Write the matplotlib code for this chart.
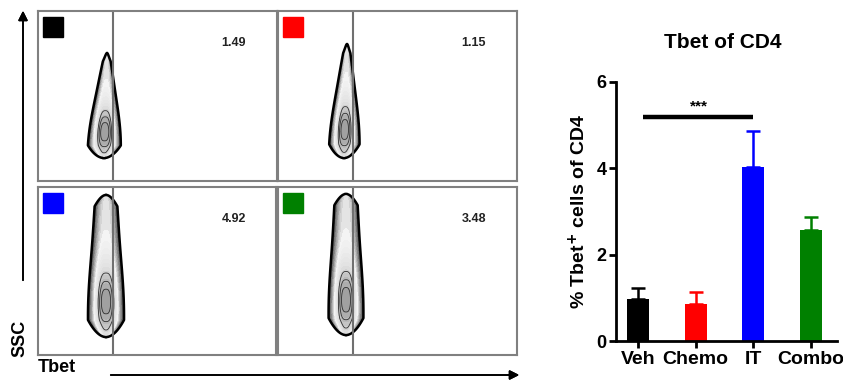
import numpy as np
import matplotlib.pyplot as plt
from matplotlib.patches import Rectangle
from matplotlib.colors import LinearSegmentedColormap

plt.rcParams['font.family'] = ['Liberation Sans', 'DejaVu Sans']

W, H = 843, 380

# flow panels
panel_names = ['Veh', 'Chemo', 'IT', 'Combo']
panel_colors = ['#000000', '#ff0000', '#0000ff', '#008000']
panel_pct = ['1.49', '1.15', '4.92', '3.48']
# blob shape: centre x, bottom y, top y, half width, taper, lean (panel pixels)
blob_cx = [66, 66, 68, 68]
blob_y0 = [23, 23, 18, 20]
blob_y1 = [128, 137, 160, 161]
blob_w = [13, 12, 14, 13.5]
blob_taper = [0.85, 0.85, 0.35, 0.3]
blob_lean = [3, 3, 0, 0]

# bar chart
groups = ['Veh', 'Chemo', 'IT', 'Combo']
means = [0.97, 0.86, 4.03, 2.57]
sems = [0.26, 0.27, 0.83, 0.30]
bar_colors = ['#000000', '#ff0000', '#0000ff', '#008000']


def box(x0, y0, x1, y1):
    return [x0 / W, 1 - y1 / H, (x1 - x0) / W, (y1 - y0) / H]


zebra = LinearSegmentedColormap.from_list(
    'zebra', ['#3a3a3a', '#9a9a9a', '#f4f4f4', '#e0e0e0', '#9c9c9c'])

fig = plt.figure(figsize=(W / 100, H / 100), dpi=100)

boxes = [(38, 11, 277, 181), (278, 11, 517, 181),
         (38, 187, 276, 355), (278, 187, 517, 355)]

for i, (x0, y0, x1, y1) in enumerate(boxes):
    pw, ph = x1 - x0, y1 - y0
    ax = fig.add_axes(box(x0, y0, x1, y1))
    ax.set_xlim(0, pw)
    ax.set_ylim(0, ph)
    ax.set_xticks([])
    ax.set_yticks([])
    for s in ax.spines.values():
        s.set_color('#808080')
        s.set_linewidth(1.5)

    X, Y = np.meshgrid(np.linspace(0, pw, 600), np.linspace(0, ph, 420))
    t = (Y - blob_y0[i]) / (blob_y1[i] - blob_y0[i])
    tc = np.clip(t, 0, 1)
    hw = blob_w[i] * (1 - blob_taper[i] * tc ** 1.6)
    hw = hw * np.sqrt(np.clip(t / 0.12, 0, 1)) * np.sqrt(np.clip((1 - t) / 0.08, 0, 1))
    hw = np.maximum(hw, 1e-3)
    cx = blob_cx[i] + blob_lean[i] * tc
    along = 0.5 + 0.5 * np.exp(-((t - 0.25) / 0.3) ** 2)
    d = np.exp(-(np.abs(X - cx) / hw) ** 3) * along

    ax.contourf(X, Y, d, levels=np.linspace(0.1, 1.0, 24), cmap=zebra)
    ax.contour(X, Y, d, levels=[0.1], colors='black', linewidths=1.8)
    ax.contour(X, Y, d, levels=[0.82, 0.9, 0.96], colors='#303030',
               linewidths=0.6)

    ax.axvline(75, color='#707070', lw=1.5)
    ax.add_patch(Rectangle((5, ph - 26), 20, 20, color=panel_colors[i]))
    ax.text(196, ph - 32, panel_pct[i], fontsize=9, fontweight='bold',
            ha='center', va='center', color='#222222')

# axis arrows and labels of flow plots
fig.add_artist(plt.annotate('', xy=(23, H - 8), xytext=(23, H - 283),
                            xycoords='figure pixels',
                            arrowprops=dict(arrowstyle='-|>', color='black',
                                            lw=1.2, mutation_scale=14)))
fig.add_artist(plt.annotate('', xy=(522, H - 375), xytext=(108, H - 375),
                            xycoords='figure pixels',
                            arrowprops=dict(arrowstyle='-|>', color='black',
                                            lw=1.2, mutation_scale=14)))
fig.text(20 / W, 1 - 338 / H, 'SSC', rotation=90, fontsize=13, fontweight='bold',
         ha='center', va='center')
fig.text(57 / W, 1 - 368 / H, 'Tbet', fontsize=13, fontweight='bold',
         ha='center', va='center')

# bar chart
bx = fig.add_axes(box(616, 82, 837, 341))
x = np.arange(len(groups))
bx.bar(x, means, width=0.38, color=bar_colors, zorder=2)
for xi, m, e, c in zip(x, means, sems, bar_colors):
    bx.errorbar(xi, m, yerr=[[0], [e]], color=c, capsize=5, elinewidth=1.8,
                capthick=1.8, zorder=1)
bx.set_xlim(-0.38, 3.45)
bx.set_ylim(0, 6)
bx.set_yticks([0, 2, 4, 6])
bx.set_xticks(x)
bx.set_xticklabels(groups, fontsize=14, fontweight='bold')
for lab in bx.get_yticklabels():
    lab.set_fontsize(13)
    lab.set_fontweight('bold')
bx.spines['top'].set_visible(False)
bx.spines['right'].set_visible(False)
for s in ('left', 'bottom'):
    bx.spines[s].set_linewidth(2)
bx.tick_params(axis='both', width=2, length=5, pad=2)
bx.set_ylabel(r'% Tbet$^{\mathbf{+}}$ cells of CD4', fontsize=14,
              fontweight='bold', labelpad=5)
bx.plot([0.09, 2.0], [5.19, 5.19], color='black', lw=3.2, solid_capstyle='butt')
bx.text(1.05, 5.27, '***', fontsize=11, fontweight='bold', ha='center',
        va='bottom')

fig.text(723 / W, 1 - 42 / H, 'Tbet of CD4', fontsize=15, fontweight='bold',
         ha='center', va='center')

fig.savefig('out.png', dpi=100)
